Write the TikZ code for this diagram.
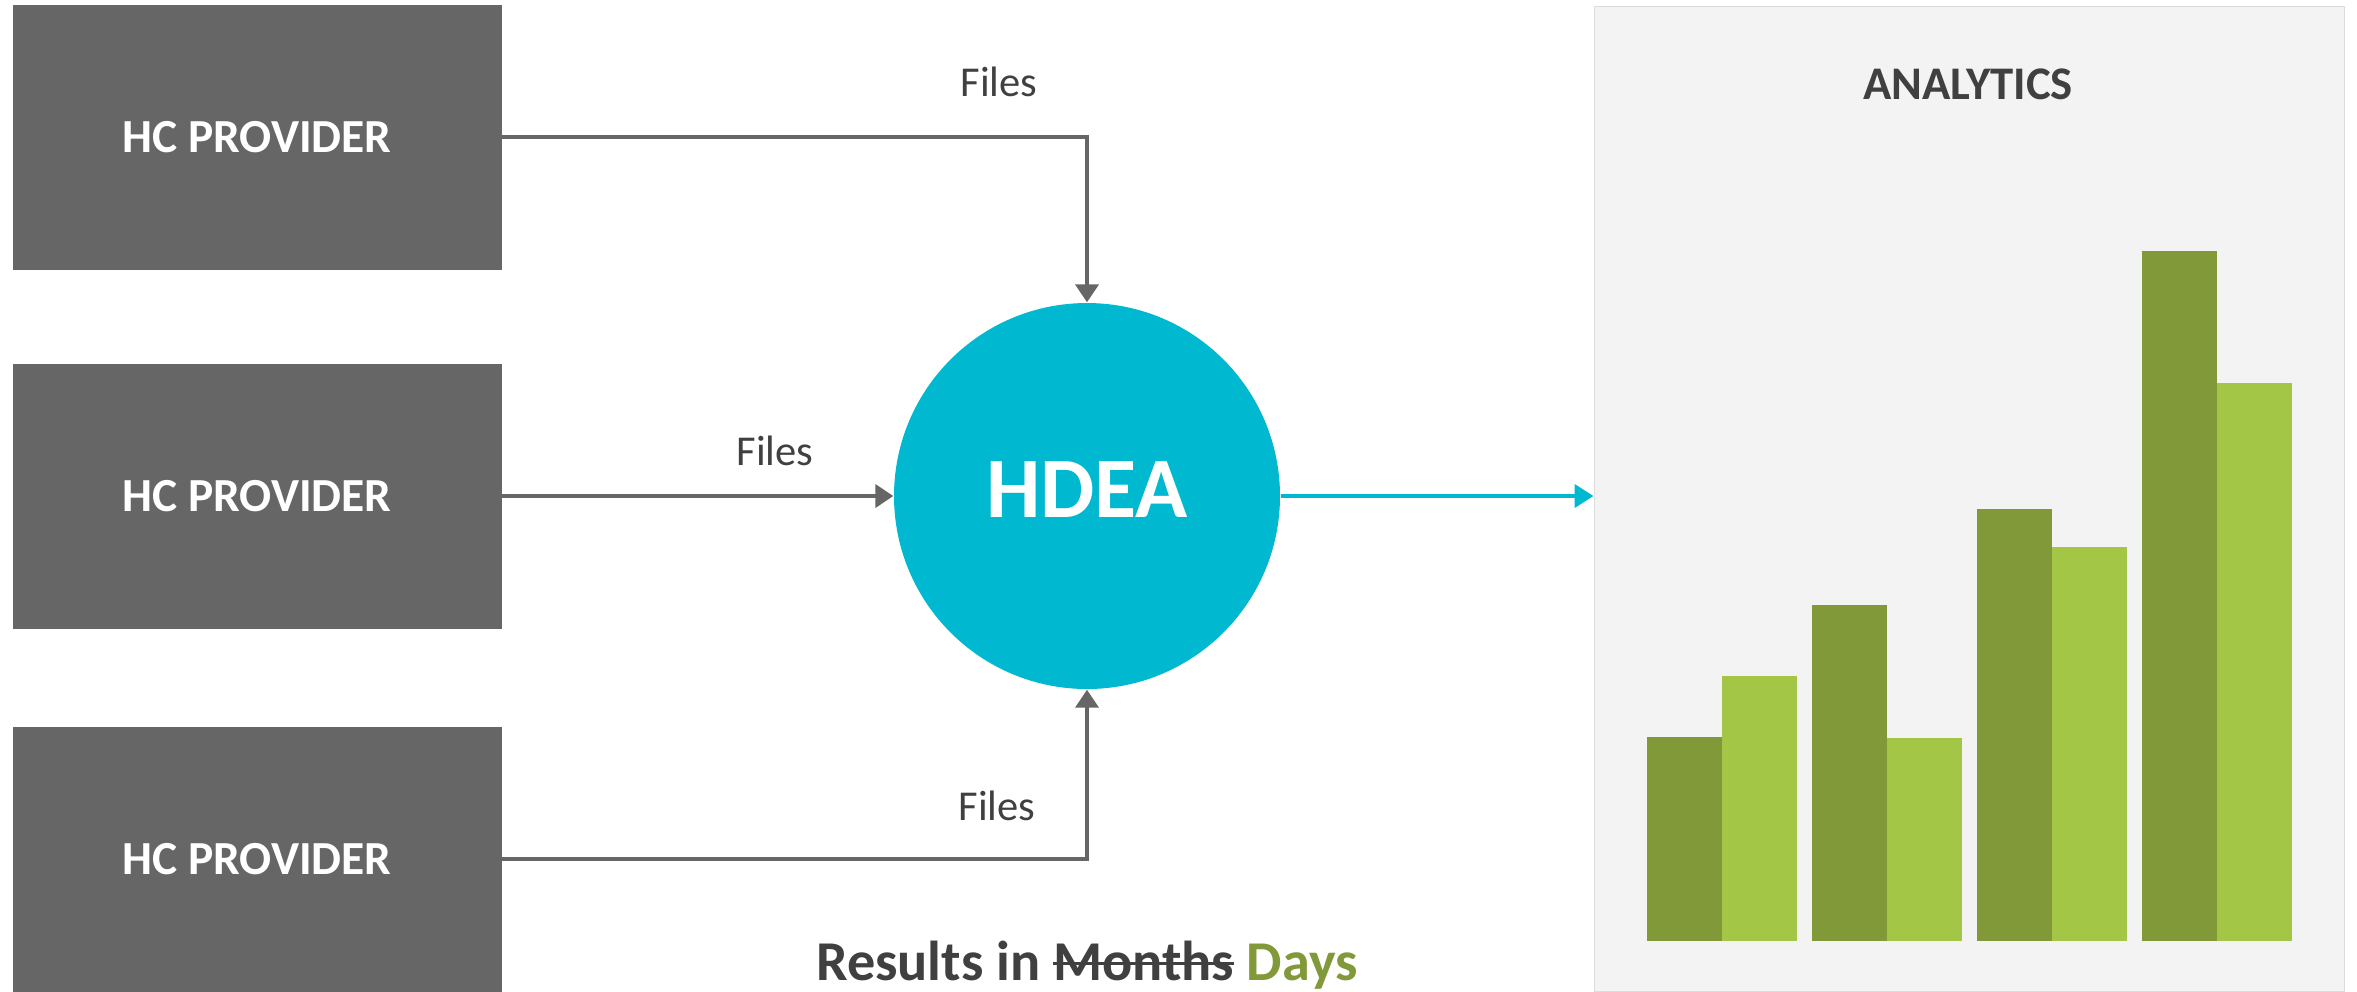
\documentclass[tikz,border=0pt]{standalone}
\usepackage{fontspec}
\setmainfont{Carlito}
\usetikzlibrary{positioning,arrows.meta}

\definecolor{boxgray}{HTML}{666666}
\definecolor{linegray}{HTML}{666666}
\definecolor{textgray}{HTML}{404040}
\definecolor{hdeacyan}{HTML}{00B9D1}
\definecolor{paneldrop}{HTML}{F3F3F3}
\definecolor{panelline}{HTML}{DCDCDC}
\definecolor{bardark}{HTML}{82993A}
\definecolor{barlight}{HTML}{A4C646}

% struck-through word
\newcommand{\strikeword}[1]{\sbox0{#1}\rlap{\rule[0.27em]{\wd0}{0.9pt}}\usebox0}

\begin{document}
\begin{tikzpicture}[x=0.1mm,y=-0.1mm,
	provider/.style={shape=rectangle,fill=boxgray,inner sep=0pt,minimum width=48.9mm,minimum height=26.5mm,text=white,font=\bfseries\fontsize{13.5}{16}\selectfont},
	filelabel/.style={text=textgray,inner sep=0pt,font=\fontsize{12.1}{14}\selectfont},
	feed/.style={draw=linegray,line width=0.4mm,-{Triangle[length=1.8mm,width=2.3mm]}}]
	\useasboundingbox (0,0) rectangle (2357,991);

	% Analytics panel
	\node [shape=rectangle,fill=paneldrop,draw=panelline,line width=0.1mm,inner sep=0pt,minimum width=75mm,minimum height=98.5mm] (panel) at (1969,498.5) {};
	\node [text=textgray,inner sep=0pt,font=\bfseries\fontsize{13.3}{16}\selectfont] (analytics) at (1968,84) {ANALYTICS};

	% Bars of the chart
	\foreach \x/\dark/\light in {1647/737/676, 1812/605/738, 1977/509/547, 2142/251/383}{
		\fill[bardark] (\x,\dark) rectangle (\x+75,941);
		\fill[barlight] (\x+75,\light) rectangle (\x+150,941);
	}

	% Providers
	\node [provider] (hc1) at (257,137) {HC PROVIDER};
	\node [provider] (hc2) at (257,496) {HC PROVIDER};
	\node [provider] (hc3) at (257,859) {HC PROVIDER};

	% HDEA
	\node [shape=circle,fill=hdeacyan,inner sep=0pt,minimum size=38.6mm,text=white,text depth=1.2mm,font=\bfseries\fontsize{24.5}{28}\selectfont] (hdea) at (1087,496) {HDEA};

	% Files going in
	\draw [feed] (hc1.east) -| (hdea.north);
	\draw [feed] (hc2.east) -- (hdea.west);
	\draw [feed] (hc3.east) -| (hdea.south);
	\node [filelabel] (files1) at (999,82) {Files};
	\node [filelabel] (files2) at (775,451) {Files};
	\node [filelabel] (files3) at (997,806) {Files};

	% Results out
	\draw [draw=hdeacyan,line width=0.4mm,-{Triangle[length=1.9mm,width=2.3mm]}] (hdea.east) -- (hdea.east -| panel.west);
	\node [anchor=base,inner sep=0pt,text=textgray,font=\bfseries\fontsize{16}{19}\selectfont] (results) at (1087,980) {Results in \strikeword{Months} \textcolor{bardark}{Days}};
\end{tikzpicture}
\end{document}
